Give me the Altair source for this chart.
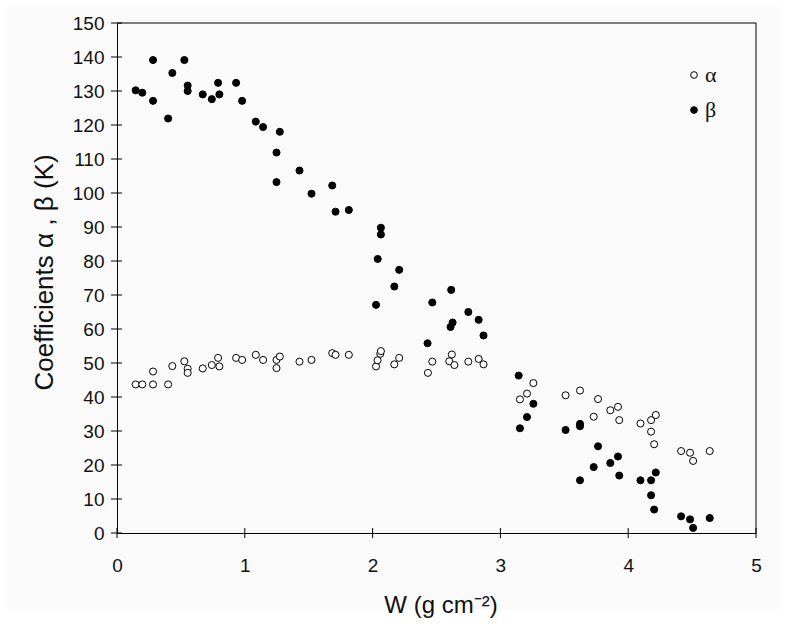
import altair as alt
import pandas as pd

# ---- data ----
w_alpha = [0.146, 0.198, 0.282, 0.282, 0.40, 0.433, 0.527, 0.553, 0.553, 0.671,
           0.742, 0.791, 0.801, 0.932, 0.979, 1.086, 1.143, 1.248, 1.248, 1.274,
           1.428, 1.522, 1.684, 1.71, 1.814, 2.027, 2.039, 2.06, 2.065, 2.17,
           2.208, 2.433, 2.467, 2.60, 2.62, 2.64, 2.749, 2.83, 2.868, 3.153,
           3.208, 3.258, 3.51, 3.623, 3.73, 3.764, 3.86, 3.92, 3.93, 4.096,
           4.179, 4.179, 4.203, 4.216, 4.414, 4.484, 4.508, 4.638]
alpha = [43.7, 43.7, 43.7, 47.5, 43.7, 49.1, 50.5, 48.3, 47.1, 48.4,
         49.4, 51.5, 49.0, 51.5, 50.9, 52.4, 50.9, 50.9, 48.5, 51.9,
         50.4, 50.9, 52.9, 52.4, 52.4, 49.0, 50.8, 52.7, 53.5, 49.6,
         51.5, 47.1, 50.4, 50.5, 52.5, 49.4, 50.4, 51.2, 49.6, 39.3,
         41.0, 44.1, 40.5, 41.9, 34.2, 39.4, 36.1, 37.1, 33.2, 32.2,
         33.2, 29.8, 26.1, 34.7, 24.1, 23.6, 21.2, 24.1]

w_beta = [0.146, 0.198, 0.282, 0.282, 0.40, 0.433, 0.527, 0.553, 0.553, 0.671,
          0.742, 0.791, 0.801, 0.932, 0.979, 1.086, 1.143, 1.248, 1.248, 1.274,
          1.428, 1.522, 1.684, 1.71, 1.814, 2.027, 2.04, 2.065, 2.065, 2.17,
          2.208, 2.43, 2.467, 2.61, 2.615, 2.626, 2.749, 2.83, 2.868, 3.143,
          3.153, 3.208, 3.258, 3.51, 3.623, 3.623, 3.623, 3.73, 3.764, 3.86,
          3.92, 3.93, 4.096, 4.179, 4.179, 4.203, 4.216, 4.414, 4.484, 4.508,
          4.638]
beta = [130.2, 129.5, 139.1, 127.1, 121.9, 135.3, 139.1, 131.6, 130.0, 129.0,
        127.6, 132.4, 129.0, 132.4, 127.1, 121.0, 119.4, 111.9, 103.2, 118.0,
        106.6, 99.8, 102.2, 94.5, 95.0, 67.1, 80.6, 89.8, 87.8, 72.5,
        77.4, 55.8, 67.8, 60.6, 71.5, 61.9, 65.0, 62.7, 58.1, 46.3,
        30.8, 34.1, 38.0, 30.3, 32.1, 31.4, 15.5, 19.4, 25.5, 20.6,
        22.5, 16.9, 15.5, 15.5, 11.1, 6.9, 17.8, 4.9, 4.0, 1.5,
        4.4]

series_names = ["α", "β"]
x_ticks = [0, 1, 2, 3, 4, 5]
y_ticks = list(range(0, 151, 10))

df = pd.concat([
    pd.DataFrame({"W": w_alpha, "value": alpha, "series": series_names[0]}),
    pd.DataFrame({"W": w_beta, "value": beta, "series": series_names[1]}),
], ignore_index=True)

W, H = 639, 510
FONT = "Liberation Sans"
xs = alt.Scale(domain=[0, 5], nice=False, zero=False)
ys = alt.Scale(domain=[0, 150], nice=False)

x_axis = alt.Axis(
    values=x_ticks, format="d", ticks=False, grid=False, zindex=1,
    labelOverlap=False, labelFlush=False,
    domainColor="black", domainWidth=1,
    labelFont=FONT, labelFontSize=19, labelColor="#111", labelPadding=23,
    title="W (g cm⁻²)", titleFont=FONT, titleFontSize=24, titleFontWeight="normal",
    titleColor="#111", titleX=W / 2 + 4, titleY=72, titleBaseline="middle", titleAlign="center",
)
y_axis = alt.Axis(
    values=y_ticks, format="d", ticks=False, grid=False, zindex=1,
    labelOverlap=False, labelFlush=False,
    domainColor="black", domainWidth=1,
    labelFont=FONT, labelFontSize=19, labelColor="#111", labelPadding=13,
    title="Coefficients α , β (K)", titleFont=FONT, titleFontSize=26, titleFontWeight="normal",
    titleColor="#111", titleX=-73, titleY=249, titleBaseline="middle", titleAlign="center",
    titleAngle=270,
)

one = pd.DataFrame({"a": [0]})

bg = alt.Chart(one).mark_rect(color="#fafafa").encode(
    x=alt.value(-110), x2=alt.value(W + 25), y=alt.value(-16), y2=alt.value(H + 76)
)

points = alt.Chart(df).mark_point(
    filled=True, shape="circle", stroke="black", strokeWidth=1, size=50, opacity=1
).encode(
    x=alt.X("W:Q", scale=xs, axis=x_axis),
    y=alt.Y("value:Q", scale=ys, axis=y_axis),
    fill=alt.Fill("series:N", scale=alt.Scale(domain=series_names, range=["white", "black"]),
                  legend=alt.Legend(
                      title=None, orient="none", legendX=566, legendY=41, padding=0,
                      symbolType="circle", symbolSize=45, symbolStrokeColor="black",
                      symbolStrokeWidth=1, labelFont="Liberation Serif", labelFontSize=22,
                      labelColor="#111", labelOffset=0, rowPadding=13,
                  )),
)

xt = alt.Chart(pd.DataFrame({"W": x_ticks})).mark_rule(color="black", strokeWidth=1).encode(
    x=alt.X("W:Q", scale=xs, axis=x_axis), y=alt.value(H - 5), y2=alt.value(H + 5)
)
yt = alt.Chart(pd.DataFrame({"value": y_ticks})).mark_rule(color="black", strokeWidth=1).encode(
    y=alt.Y("value:Q", scale=ys, axis=y_axis), x=alt.value(-6), x2=alt.value(5)
)
top_border = alt.Chart(one).mark_rule(color="black", strokeWidth=1).encode(
    x=alt.value(0), x2=alt.value(W), y=alt.value(0)
)
right_border = alt.Chart(one).mark_rule(color="black", strokeWidth=1).encode(
    x=alt.value(W), y=alt.value(0), y2=alt.value(H)
)

chart = alt.layer(bg, top_border, right_border, points, xt, yt).properties(
    width=W, height=H,
    padding={"left": 117, "top": 23, "right": 32, "bottom": 94},
    autosize=alt.AutoSizeParams(type="none"),
).configure(background="white").configure_view(stroke=None)

chart.save("out.html", embed_options={"renderer": "svg", "actions": False})
